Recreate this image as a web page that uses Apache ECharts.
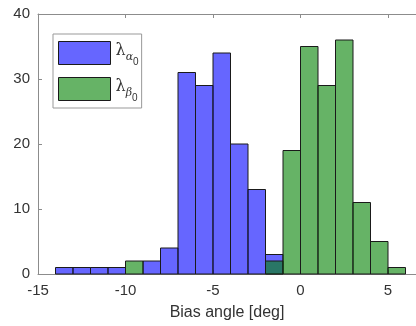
<!DOCTYPE html>
<html>
<head>
<meta charset="utf-8">
<script src="https://cdn.jsdelivr.net/npm/echarts@6/dist/echarts.min.js"></script>
<style>
  html, body { margin: 0; padding: 0; background: #fff; }
  #chart { width: 416px; height: 326px; }
</style>
</head>
<body>
<div id="chart"></div>
<script>
// histogram bins: left edges, width 1 deg
const binLefts = [-14, -13, -12, -11, -10, -9, -8, -7, -6, -5, -4, -3, -2, -1, 0, 1, 2, 3, 4, 5];
const alphaCounts = [1, 1, 1, 1, 0, 2, 4, 31, 29, 34, 20, 13, 3, 0, 0, 0, 0, 0, 0, 0];
const betaCounts = [0, 0, 0, 0, 2, 0, 0, 0, 0, 0, 0, 0, 2, 19, 35, 29, 36, 11, 5, 1];
const xTicks = [-15, -10, -5, 0, 5];
const yTicks = [0, 10, 20, 30, 40];
const binWidth = 1;

const chart = echarts.init(document.getElementById("chart"), null, { renderer: "canvas" });

function toData(counts) {
  return binLefts.map((x, i) => [x, counts[i]]).filter((d) => d[1] > 0);
}

function renderBar(params, api) {
  const x0 = api.value(0);
  const n = api.value(1);
  const p0 = api.coord([x0, 0]);
  const p1 = api.coord([x0 + binWidth, n]);
  return {
    type: "rect",
    shape: { x: p0[0], y: p1[1], width: p1[0] - p0[0], height: p0[1] - p1[1] },
    style: api.style({ stroke: "#1a1a1a", lineWidth: 1 }),
  };
}

const textColor = "#333";
const axisColor = "#8c8c8c";
const font = "Liberation Sans";

chart.setOption({
  animation: false,
  grid: { left: 38, right: -1, top: 14, bottom: 52 },
  xAxis: [
    {
      type: "value",
      min: -15,
      max: 6.6,
      interval: 5,
      name: "Bias angle [deg]",
      nameLocation: "middle",
      nameGap: 31,
      nameTextStyle: { color: textColor, fontSize: 16, fontFamily: font },
      axisLine: { lineStyle: { color: axisColor } },
      axisTick: { inside: true, length: 4, lineStyle: { color: axisColor } },
      axisLabel: {
        color: textColor, fontSize: 15, fontFamily: font, margin: 9,
        showMaxLabel: false,
        formatter: (v) => (xTicks.includes(v) ? String(v) : ""),
      },
      splitLine: { show: false },
    },
    {
      type: "value",
      position: "top",
      min: -15,
      max: 6.6,
      interval: 5,
      axisLine: { show: true, lineStyle: { color: axisColor } },
      axisTick: { inside: true, length: 4, lineStyle: { color: axisColor } },
      axisLabel: { show: false },
      splitLine: { show: false },
    },
  ],
  yAxis: {
    type: "value",
    min: 0,
    max: 40,
    interval: 10,
    axisLine: { show: true, onZero: false, lineStyle: { color: axisColor } },
    axisTick: { show: true, inside: true, length: 4, lineStyle: { color: axisColor } },
    axisLabel: {
      color: textColor, fontSize: 15, fontFamily: font, margin: 8,
      formatter: (v) => (yTicks.includes(v) ? String(v) : ""),
    },
    splitLine: { show: false },
  },
  legend: {
    orient: "vertical",
    left: 53,
    top: 34,
    padding: [5, 3, 5, 5],
    itemGap: 8,
    itemWidth: 52,
    itemHeight: 23,
    borderColor: "#999",
    borderWidth: 1,
    backgroundColor: "#fff",
    itemStyle: { borderColor: "#1a1a1a", borderWidth: 1 },
    icon: "rect",
    data: ["alpha", "beta"],
    formatter: (name) =>
      name === "alpha" ? "{l|λ}{s|α}{z|0}" : "{l|λ}{s|β}{z|0}",
    textStyle: {
      padding: [0, 0, 0, 0],
      rich: {
        l: { fontSize: 16, fontFamily: "DejaVu Serif", color: textColor, lineHeight: 28, verticalAlign: "top", padding: [4, 0, 0, 0] },
        s: { fontSize: 11, fontStyle: "italic", fontFamily: "DejaVu Serif", color: textColor, verticalAlign: "bottom", padding: [0, 0, 4, 0] },
        z: { fontSize: 10, fontFamily: font, color: textColor, verticalAlign: "bottom", padding: [0, 0, 0, 0] },
      },
    },
  },
  series: [
    {
      name: "alpha",
      type: "custom",
      renderItem: renderBar,
      encode: { x: 0, y: 1 },
      itemStyle: { color: "rgba(0,0,255,0.6)" },
      data: toData(alphaCounts),
      z: 2,
    },
    {
      name: "beta",
      type: "custom",
      renderItem: renderBar,
      encode: { x: 0, y: 1 },
      itemStyle: { color: "rgba(0,128,0,0.6)" },
      data: toData(betaCounts),
      z: 3,
    },
  ],
});
</script>
</body>
</html>
